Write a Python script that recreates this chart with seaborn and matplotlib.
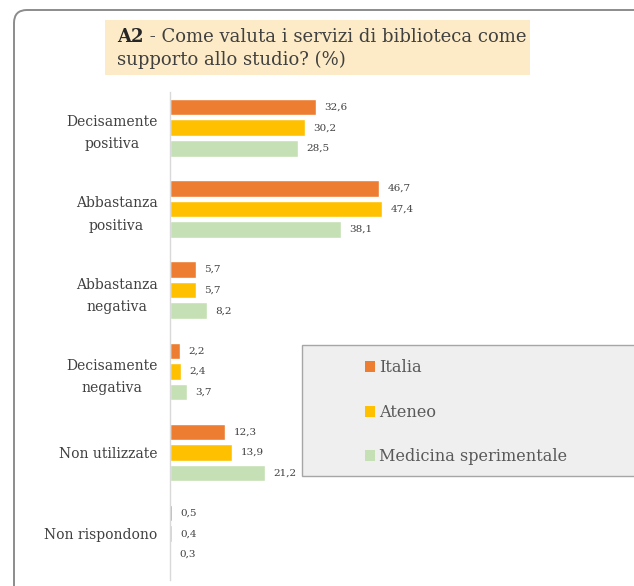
import matplotlib
matplotlib.use("Agg")
import matplotlib.pyplot as plt
from matplotlib.patches import FancyBboxPatch, Rectangle, Patch
import seaborn as sns
import pandas as pd

# Survey answers and percentages per group
categories = ["Decisamente\npositiva", "Abbastanza\npositiva", "Abbastanza\nnegativa",
              "Decisamente\nnegativa", "Non utilizzate", "Non rispondono"]
italia = [32.6, 46.7, 5.7, 2.2, 12.3, 0.5]
ateneo = [30.2, 47.4, 5.7, 2.4, 13.9, 0.4]
medicina = [28.5, 38.1, 8.2, 3.7, 21.2, 0.3]
series_names = ["Italia", "Ateneo", "Medicina sperimentale"]
colors = ["#ED7D31", "#FFC000", "#C5E0B4"]

rows = []
for name, vals in zip(series_names, [italia, ateneo, medicina]):
    for cat, v in zip(categories, vals):
        rows.append({"Risposta": cat, "Valore": v, "Gruppo": name})
df = pd.DataFrame(rows)

sns.set_theme(style="white")
plt.rcParams["font.family"] = ["DejaVu Serif"]
text_color = "#404040"

W, H = 634, 586
fig = plt.figure(figsize=(W / 100, H / 100), dpi=100, facecolor="white")

# Rounded outer frame
frame = FancyBboxPatch((0.14, -0.3), 6.6, 6.06, boxstyle="round,pad=0,rounding_size=0.13",
                       transform=fig.dpi_scale_trans, facecolor="none",
                       edgecolor="#8C8C8C", linewidth=1.4, zorder=0)
fig.patches.append(frame)

# Title band
title_box = Rectangle((1.05, 5.11), 4.25, 0.55, transform=fig.dpi_scale_trans,
                      facecolor="#FCEBC6", edgecolor="none", zorder=1)
fig.patches.append(title_box)

ax = fig.add_axes([170 / W, 1 - 580 / H, (630 - 170) / W, (580 - 92) / H])
ax.patch.set_alpha(0)
ax.set_zorder(1.5)

sns.barplot(data=df, y="Risposta", x="Valore", hue="Gruppo", order=categories,
            hue_order=series_names, palette=colors, orient="h",
            width=0.76, gap=0.2, ax=ax, legend=False, saturation=1)

for cont in ax.containers:
    ax.bar_label(cont, labels=[f"{v:.1f}".replace(".", ",") for v in cont.datavalues],
                 padding=6, fontsize=7.5, color=text_color)

ax.set_xlim(0, 102.7)
ax.set_ylim(5.57, -0.44)
ax.set_xlabel("")
ax.set_ylabel("")
ax.set_xticks([])
ax.tick_params(axis="y", length=0, pad=9, labelsize=10, labelcolor=text_color)
for lbl in ax.get_yticklabels():
    lbl.set_multialignment("center")
    lbl.set_linespacing(1.75)
for side in ["top", "right", "bottom"]:
    ax.spines[side].set_visible(False)
ax.spines["left"].set_color("#D9D9D9")
ax.spines["left"].set_linewidth(1.0)

# Legend panel
leg_box = Rectangle((302 / W, 1 - 476 / H), (640 - 302) / W, (476 - 345) / H,
                    transform=fig.transFigure, facecolor="#EFEFEF",
                    edgecolor="#A6A6A6", linewidth=1.0, zorder=2)
fig.patches.append(leg_box)
handles = [Patch(facecolor=c, edgecolor="none") for c in colors]
leg = fig.legend(handles, series_names, loc="upper left",
                 bbox_to_anchor=(350 / W, 1 - 345 / H), frameon=False,
                 fontsize=11.6, labelcolor="#595959", handlelength=0.65,
                 handleheight=0.65, handletextpad=0.25, labelspacing=1.7)
leg.set_zorder(3)

# Title with bold prefix
t1 = fig.text(117 / W, 1 - 42 / H, "A2", fontsize=13, fontweight="bold",
              color="#262626", va="baseline", zorder=4)
fig.canvas.draw()
bb = t1.get_window_extent()
fig.text(bb.x1 / W, 1 - 42 / H, " - Come valuta i servizi di biblioteca come",
         fontsize=13, color="#404040", va="baseline", zorder=4)
fig.text(117 / W, 1 - 65 / H, "supporto allo studio? (%)", fontsize=13,
         color="#404040", va="baseline", zorder=4)

fig.savefig("out.png", dpi=100)
